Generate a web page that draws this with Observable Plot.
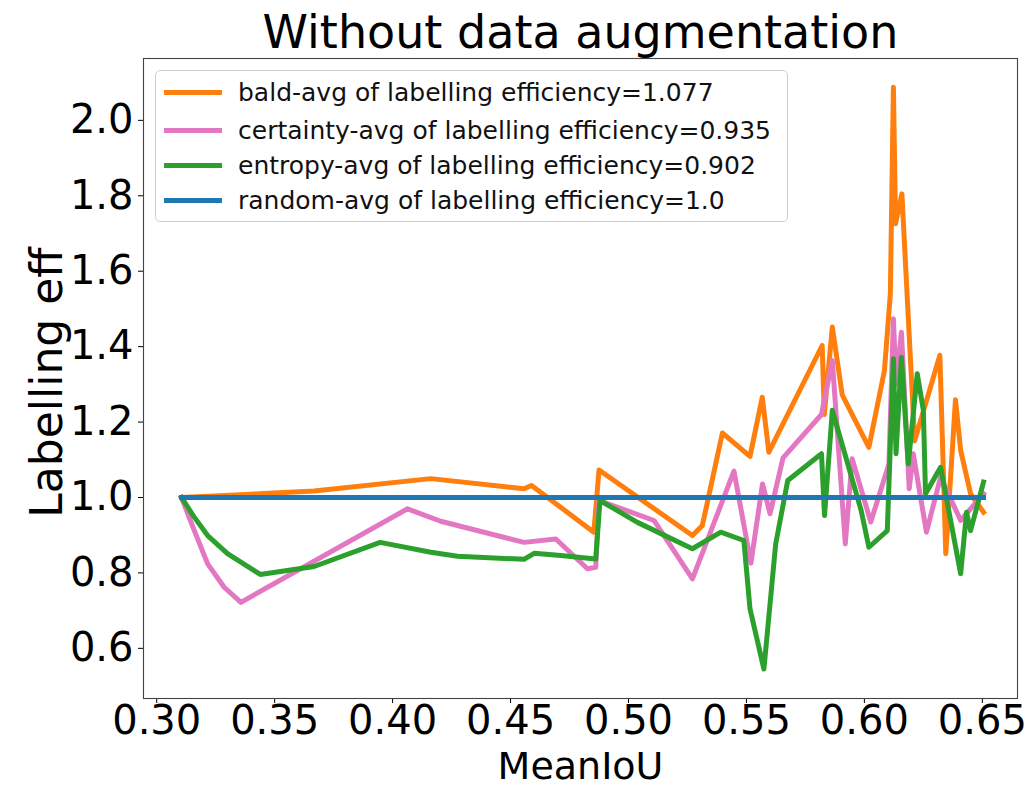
<!DOCTYPE html>
<html>
<head>
<meta charset="utf-8">
<script src="https://cdn.jsdelivr.net/npm/d3@7"></script>
<script src="https://cdn.jsdelivr.net/npm/@observablehq/plot@0.6"></script>
<style>
  html, body { margin: 0; padding: 0; background: #fff; }
  #wrap { position: relative; width: 1033px; height: 787px; font-family: "DejaVu Sans", sans-serif; }
  #legend { position: absolute; left: 155px; top: 70px; width: 631px; height: 150px;
            border: 1px solid #d0d0d0; border-radius: 5px; background: rgba(255,255,255,0.85); }
  .row { position: absolute; left: 0; height: 36px; display: flex; align-items: center; }
  .swatch { position: absolute; left: 8px; width: 58px; height: 5px; }
  .lab { position: absolute; left: 82px; font-size: 25px; white-space: nowrap; color: #111; line-height: 36px; top: 0; }
</style>
</head>
<body>
<div id="wrap"></div>
<script>
// ---- data ----
const strategies = ["bald", "certainty", "entropy", "random"];
const avgEff = ["1.077", "0.935", "0.902", "1.0"];
const seriesColors = ["#ff7f0e", "#e377c2", "#2ca02c", "#1f77b4"];

const baldIoU = [0.3105, 0.3667, 0.4162, 0.4557, 0.4589, 0.4853, 0.4875, 0.5271, 0.5313, 0.5398, 0.5515, 0.5567, 0.5595, 0.5821, 0.5830, 0.5864, 0.5906, 0.6019, 0.6085, 0.6110, 0.6123, 0.6132, 0.6159, 0.6213, 0.6320, 0.6345, 0.6386, 0.6408, 0.6450, 0.6505];
const baldEff = [1.000, 1.017, 1.050, 1.023, 1.032, 0.908, 1.073, 0.899, 0.926, 1.171, 1.109, 1.266, 1.120, 1.403, 1.220, 1.452, 1.272, 1.133, 1.337, 1.540, 2.088, 1.726, 1.805, 1.150, 1.377, 0.851, 1.259, 1.125, 1.010, 0.961];

const certaintyIoU = [0.3105, 0.3154, 0.3216, 0.3286, 0.3357, 0.4063, 0.4204, 0.4557, 0.4692, 0.4826, 0.4861, 0.4875, 0.5108, 0.5271, 0.5447, 0.5519, 0.5568, 0.5600, 0.5655, 0.5818, 0.5864, 0.5919, 0.5948, 0.6027, 0.6104, 0.6123, 0.6134, 0.6157, 0.6190, 0.6207, 0.6263, 0.6323, 0.6408, 0.6505];
const certaintyEff = [1.000, 0.921, 0.824, 0.762, 0.722, 0.970, 0.937, 0.881, 0.890, 0.811, 0.815, 0.992, 0.939, 0.784, 1.070, 0.826, 1.036, 0.957, 1.105, 1.220, 1.363, 0.877, 1.103, 0.935, 1.089, 1.474, 1.300, 1.438, 1.023, 1.116, 0.908, 1.054, 0.939, 1.010];

const entropyIoU = [0.3105, 0.3159, 0.3216, 0.3300, 0.3439, 0.3667, 0.3947, 0.4162, 0.4275, 0.4557, 0.4600, 0.4713, 0.4861, 0.4879, 0.5038, 0.5271, 0.5391, 0.5489, 0.5515, 0.5574, 0.5624, 0.5675, 0.5818, 0.5831, 0.5864, 0.5986, 0.6019, 0.6097, 0.6123, 0.6134, 0.6157, 0.6186, 0.6224, 0.6250, 0.6259, 0.6323, 0.6408, 0.6433, 0.6450, 0.6505];
const entropyEff = [1.000, 0.948, 0.899, 0.851, 0.796, 0.817, 0.881, 0.855, 0.844, 0.836, 0.852, 0.846, 0.837, 0.992, 0.934, 0.864, 0.908, 0.886, 0.705, 0.545, 0.877, 1.045, 1.116, 0.952, 1.231, 0.966, 0.868, 0.912, 1.368, 1.116, 1.372, 1.089, 1.328, 1.231, 1.010, 1.080, 0.798, 0.961, 0.912, 1.041];

const randomIoU = [0.3105, 0.6505];
const randomEff = [1.0, 1.0];

const xTicks = [0.30, 0.35, 0.40, 0.45, 0.50, 0.55, 0.60, 0.65];
const yTicks = [0.6, 0.8, 1.0, 1.2, 1.4, 1.6, 1.8, 2.0];

const titleText = "Without data augmentation";
const xLabel = "MeanIoU";
const yLabel = "Labelling eff";

// ---- build table ----
const seriesX = [baldIoU, certaintyIoU, entropyIoU, randomIoU];
const seriesY = [baldEff, certaintyEff, entropyEff, randomEff];
const rows = [];
strategies.forEach((s, k) => {
  seriesX[k].forEach((x, i) => rows.push({strategy: s, iou: x, eff: seriesY[k][i]}));
});

const chart = Plot.plot({
  width: 1033,
  height: 787,
  marginTop: 58,
  marginBottom: 89,
  marginLeft: 143,
  marginRight: 16,
  style: {fontFamily: "DejaVu Sans, sans-serif", fontSize: "40px", background: "white", color: "#000"},
  x: {domain: [0.2944, 0.6649], ticks: xTicks, tickFormat: d3.format(".2f"), label: null, tickSize: 5, tickPadding: 2},
  y: {domain: [0.467, 2.164], ticks: yTicks, tickFormat: d3.format(".1f"), label: null, tickSize: 5, tickPadding: 5},
  color: {domain: strategies, range: seriesColors},
  marks: [
    Plot.frame({stroke: "#444", strokeWidth: 1.1}),
    Plot.line(rows, {x: "iou", y: "eff", z: "strategy", stroke: "strategy", strokeWidth: 5, strokeLinejoin: "round", strokeLinecap: "square"}),
    Plot.text([titleText], {text: d => d, frameAnchor: "top", dy: -25, lineAnchor: "middle", fontSize: 46}),
    Plot.text([xLabel], {text: d => d, frameAnchor: "bottom", dy: 68, lineAnchor: "middle", fontSize: 38}),
    Plot.text([yLabel], {text: d => d, frameAnchor: "left", dx: -96, dy: 4, rotate: -90, textAnchor: "middle", lineAnchor: "middle", fontSize: 44})
  ]
});

const wrap = document.getElementById("wrap");
wrap.appendChild(chart);

// ---- legend ----
const legend = document.createElement("div");
legend.id = "legend";
const rowTops = [4, 42, 77, 112];
strategies.forEach((s, k) => {
  const r = document.createElement("div");
  r.className = "row";
  r.style.top = rowTops[k] + "px";
  const sw = document.createElement("div");
  sw.className = "swatch";
  sw.style.background = seriesColors[k];
  sw.style.top = "15px";
  const lab = document.createElement("div");
  lab.className = "lab";
  lab.textContent = `${s}-avg of labelling efficiency=${avgEff[k]}`;
  r.appendChild(sw);
  r.appendChild(lab);
  legend.appendChild(r);
});
wrap.appendChild(legend);
</script>
</body>
</html>
